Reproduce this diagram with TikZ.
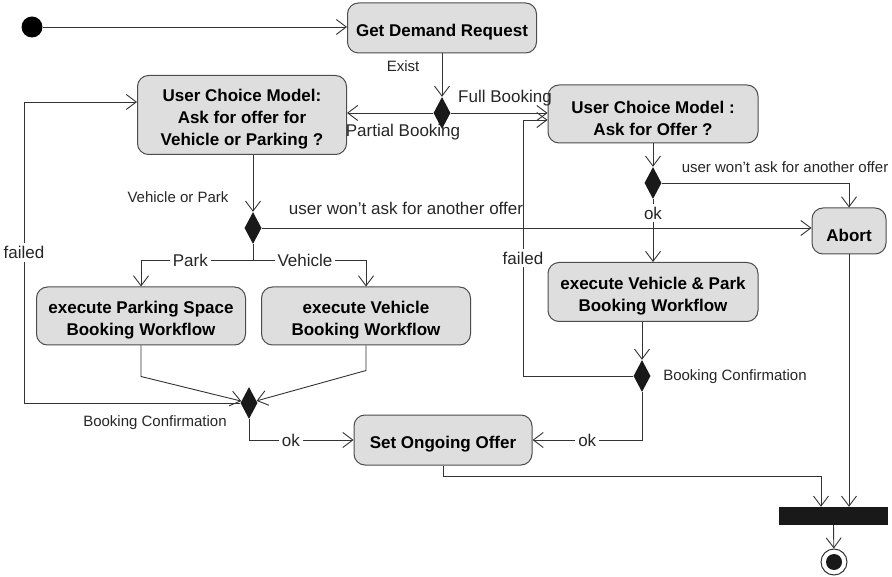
\documentclass[tikz,border=0pt]{standalone}
\usepackage{fontspec}
\setmainfont{Liberation Sans}
\usetikzlibrary{arrows.meta,shapes.geometric}
\newcommand{\topstrut}{\rule{0pt}{21pt}}

\begin{document}
\begin{tikzpicture}[x=1pt,y=-1pt,
        act/.style={draw=black!70,fill=black!13,rounded corners=11pt,line width=1pt,
            font=\fontsize{17}{22}\selectfont\bfseries,align=center,inner sep=0pt},
        dec/.style={diamond,fill=black!90,inner sep=0pt,minimum width=17pt,minimum height=32pt},
        flow/.style={draw=black!80,line width=0.9pt,-{Straight Barb[length=10pt,width=15pt]}},
        lbl/.style={font=\fontsize{17}{20}\selectfont,text=black!85,inner sep=1pt},
        sml/.style={font=\fontsize{15}{18}\selectfont,text=black!85,inner sep=1pt},
        gap/.style={lbl,fill=white,inner sep=3pt}]
    \useasboundingbox (0,0) rectangle (892,577);

    \node[circle,fill=black,minimum size=21pt,inner sep=0pt] (start) at (32,27) {};
    \node[act,minimum width=189pt,minimum height=50pt] (get) at (442,28) {\topstrut Get Demand Request};
    \node[act,minimum width=209pt,minimum height=79pt] (ucm) at (242,115)
        {\topstrut User Choice Model:\\Ask for offer for\\Vehicle or Parking ?};
    \node[act,minimum width=210pt,minimum height=58pt] (ucf) at (653,114)
        {\topstrut User Choice Model :\\Ask for Offer ?};
    \node[act,minimum width=74pt,minimum height=46pt] (abort) at (849,231) {\topstrut Abort};
    \node[act,minimum width=209pt,minimum height=58pt] (park) at (141,316)
        {\topstrut execute Parking Space\\Booking Workflow};
    \node[act,minimum width=209pt,minimum height=58pt] (veh) at (366,316)
        {\topstrut execute Vehicle\\Booking Workflow};
    \node[act,minimum width=210pt,minimum height=59pt] (vp) at (653,292)
        {\topstrut execute Vehicle \& Park\\Booking Workflow};
    \node[act,minimum width=178pt,minimum height=50pt] (ongo) at (443,440) {\topstrut Set Ongoing Offer};
    \node[fill=black!90,minimum width=109pt,minimum height=18pt,inner sep=0pt] (bar) at (833.5,516) {};
    \node[circle,draw=black!80,line width=1pt,minimum size=26pt,inner sep=0pt] (final) at (834,562) {};
    \fill[black!90] (final.center) circle (8pt);

    \node[dec] (d1) at (442,113) {};
    \node[dec] (d2) at (653,183) {};
    \node[dec] (d3) at (253,228) {};
    \node[dec] (d4) at (249,403) {};
    \node[dec] (d5) at (642,376) {};
    \coordinate (fork) at (253,260);

    \draw[flow] (start) -- (start -| get.west);
    \draw[flow] (get.south) -- (d1.north);
    \node[sml] (exist) at (403,66) {Exist};
    \draw[flow] (d1.west) -- (d1 -| ucm.east);
    \draw[flow] (d1.east) -- (d1 -| ucf.west);
    \node[lbl] (partial) at (403,132) {Partial Booking};
    \node[lbl] (full) at (505,98) {Full Booking};

    \draw[flow] (ucf.south) -- (d2.north);
    \draw[flow] (d2.east) -| (abort.north);
    \node[sml] (wont1) at (785,167) {user won't ask for another offer};
    \draw[flow] (d2.south) -- node[gap,pos=0.22] {ok} (vp.north);

    \draw[flow] (d3 |- ucm.south) -- (d3.north);
    \node[sml] (vop) at (178,197) {Vehicle or Park};
    \draw[flow] (d3.east) -- (d3 -| abort.west);
    \node[lbl] (wont2) at (406,208) {user won't ask for another offer};
    \draw[draw=black!80,line width=0.9pt] (d3.south) -- (fork);
    \draw[flow] (fork) -| node[gap,pos=0.28] {Park} (park.north);
    \draw[flow] (fork) -| node[gap,pos=0.23] {Vehicle} (veh.north);

    \draw[flow] (park.south) -- ++(0,31) -- (d4);
    \draw[flow] (veh.south) -- ++(0,25) -- (d4);
    \draw[flow] (d4.west) -- (24,403) |- node[gap,pos=0.25] {failed} ([yshift=13pt]ucm.west);
    \node[sml] (conf1) at (155,423) {Booking Confirmation};
    \draw[flow] (d4.south) |- node[gap,pos=0.7] {ok} (ongo.west);

    \draw[flow] (vp.south -| d5) -- (d5.north);
    \draw[flow] (d5.west) -- (523,376) -- node[gap,pos=0.46] {failed} (523,120) -- ([yshift=-6pt]ucf.west);
    \node[sml] (conf2) at (735,377) {Booking Confirmation};
    \draw[flow] (d5.south) |- node[gap,pos=0.75] {ok} (ongo.east);

    \draw[flow] (ongo.south) -- ++(0,11) -| ([xshift=-12.5pt]bar.north);
    \draw[flow] (abort.south) -- (abort.south |- bar.north);
    \draw[flow] (bar.south) -- (final);
\end{tikzpicture}
\end{document}
